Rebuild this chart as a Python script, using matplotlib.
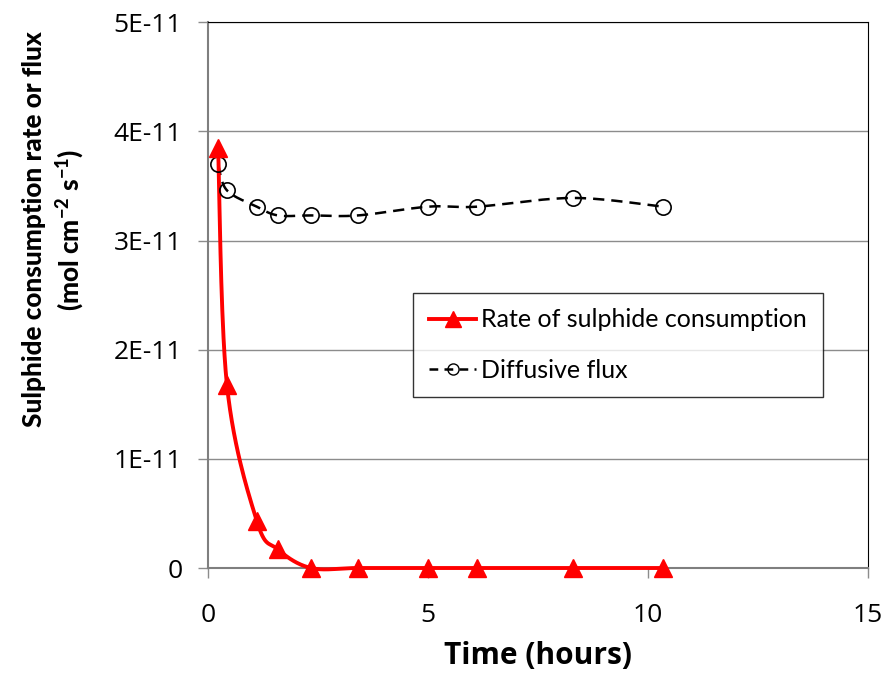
import numpy as np
import matplotlib
matplotlib.use("Agg")
import matplotlib.pyplot as plt
from matplotlib.lines import Line2D

plt.rcParams["mathtext.fontset"] = "custom"
plt.rcParams["mathtext.rm"] = "Lato:black"
plt.rcParams["mathtext.bf"] = "Lato:black"
plt.rcParams["mathtext.default"] = "rm"

# Data (time in hours, values in mol cm-2 s-1)
time_h = [0.23, 0.43, 1.11, 1.59, 2.34, 3.41, 5.0, 6.11, 8.3, 10.34]
rate = [3.85e-11, 1.68e-11, 0.43e-11, 0.17e-11, 0.0, 0.0, 0.0, 0.0, 0.0, 0.0]
flux = [3.70e-11, 3.46e-11, 3.31e-11, 3.23e-11, 3.23e-11, 3.23e-11, 3.31e-11, 3.31e-11, 3.39e-11, 3.31e-11]
x_ticks = [0, 5, 10, 15]
y_ticks = [0, 1e-11, 2e-11, 3e-11, 4e-11, 5e-11]
y_ticklabels = ["0", "1E-11", "2E-11", "3E-11", "4E-11", "5E-11"]

XMAX, YMAX = 15, 5e-11


def smooth(xs, ys, ax_w, ax_h, n=30):
    """Excel-like Catmull-Rom/Bezier smoothing performed in display-scaled space."""
    P = np.column_stack([np.asarray(xs) / XMAX * ax_w, np.asarray(ys) / YMAX * ax_h])
    out = [P[0]]
    t = np.linspace(0, 1, n)[1:]
    for i in range(len(P) - 1):
        p0 = P[i - 1] if i > 0 else P[i]
        p1, p2 = P[i], P[i + 1]
        p3 = P[i + 2] if i + 2 < len(P) else P[i + 1]
        c1 = p1 + (p2 - p0) / 6.0
        c2 = p2 - (p3 - p1) / 6.0
        for tt in t:
            b = ((1 - tt) ** 3) * p1 + 3 * ((1 - tt) ** 2) * tt * c1 + 3 * (1 - tt) * tt ** 2 * c2 + tt ** 3 * p2
            out.append(b)
    out = np.array(out)
    return out[:, 0] / ax_w * XMAX, out[:, 1] / ax_h * YMAX


fig = plt.figure(figsize=(8.85, 6.73), dpi=100)
ax = fig.add_axes([0.235, 0.156, 0.746, 0.811])
ax.set_xlim(0, XMAX)
ax.set_ylim(0, YMAX)

aw, ah = 660.0, 546.0
rx, ry = smooth(time_h, rate, aw, ah)
fx, fy = smooth(time_h, flux, aw, ah)

ax.plot(rx, ry, color="red", lw=2.8, zorder=4, clip_on=False)
ax.plot(time_h, rate, linestyle="none", marker="^", color="red", ms=12.5, zorder=5, clip_on=False)
ax.plot(fx, fy, color="black", lw=1.8, dashes=(4.5, 2.8), zorder=3)
ax.plot(time_h, flux, linestyle="none", marker="o", mfc="none", mec="black", mew=1.2, ms=11, zorder=4)

h1 = Line2D([], [], color="red", lw=2.8, marker="^", ms=12)
h2 = Line2D([], [], color="black", lw=1.8, dashes=(3.5, 2.5), marker="o", mfc="none", mec="black", mew=1.0, ms=8)
leg = ax.legend([h1, h2], ["Rate of sulphide consumption", "Diffusive flux"],
                loc="upper left", bbox_to_anchor=(0.311, 0.504), frameon=True, fancybox=False,
                prop={"family": "Lato", "size": 18}, handlelength=1.9, handletextpad=0.2,
                borderpad=0.62, labelspacing=1.1, borderaxespad=0)
leg.get_frame().set_edgecolor("black")
leg.get_frame().set_linewidth(1.0)
leg.set_zorder(6)

ax.set_xticks(x_ticks)
ax.set_yticks(y_ticks)
ax.set_yticklabels(y_ticklabels)
ax.grid(axis="y", color="#8c8c8c", lw=1.0)
ax.set_axisbelow(True)
for lab in ax.get_xticklabels() + ax.get_yticklabels():
    lab.set_family("Open Sans")
    lab.set_fontsize(19)
ax.tick_params(axis="x", direction="out", length=7, width=1.0, color="#8c8c8c", pad=18.5)
ax.tick_params(axis="y", direction="out", length=7, width=1.0, color="#8c8c8c", pad=11.5)

ax.spines["left"].set_color("#7f7f7f")
ax.spines["bottom"].set_color("#7f7f7f")
ax.spines["left"].set_linewidth(1.5)
ax.spines["bottom"].set_linewidth(1.5)
ax.spines["top"].set_color("black")
ax.spines["right"].set_color("black")

ax.set_xlabel("Time (hours)", family="Open Sans", fontweight="bold", fontsize=21.5, labelpad=9)
ax.set_ylabel("Sulphide consumption rate or flux\n(mol cm$^{-2}$ s$^{-1}$)", family="Lato",
              fontweight="black", fontsize=18.8, linespacing=1.35)
ax.yaxis.set_label_coords(-0.183, 0.62)

fig.savefig("out.png", dpi=100)
